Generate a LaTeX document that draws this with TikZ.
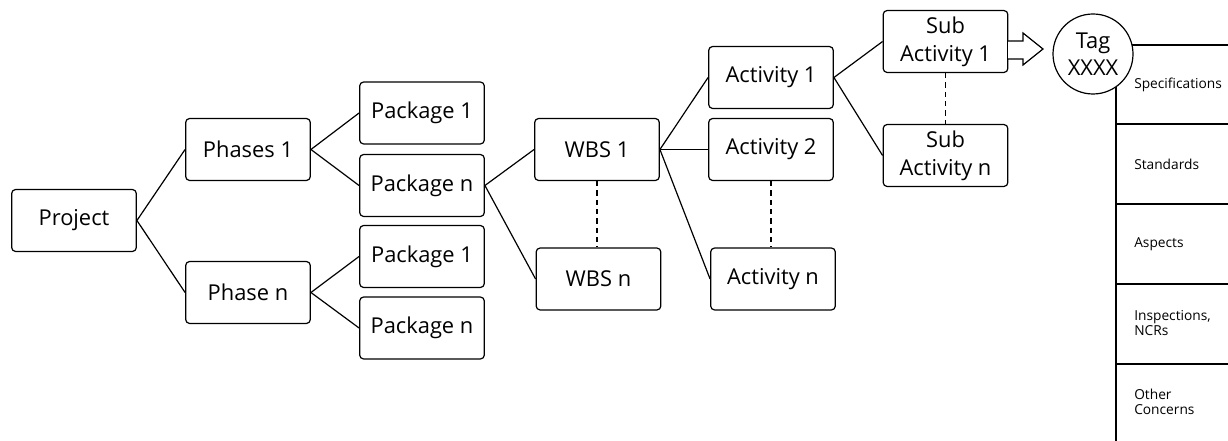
\documentclass[tikz,border=0pt]{standalone}
\usepackage{fontspec}
\setmainfont{Open Sans}
\begin{document}
\begin{tikzpicture}[x=0.75pt,y=-0.75pt,
  box/.style={draw, line width=0.9pt, rounded corners=3pt, minimum width=93.5pt, minimum height=46.5pt, inner sep=0pt, align=center, font=\fontsize{16.4}{21}\selectfont},
  link/.style={line width=0.9pt},
  dlink/.style={line width=0.9pt, dashed, dash pattern=on 4pt off 3pt},
  cell/.style={anchor=west, align=left, inner sep=0pt, font=\fontsize{10.3}{11.5}\selectfont},
  tagc/.style={draw, line width=0.9pt, circle, fill=white, minimum size=60pt, inner sep=0pt, align=center, font=\fontsize{16.4}{20}\selectfont}
]
\useasboundingbox (0,0) rectangle (1228,441);
% nodes
\node[box] (proj) at (74,220.5) {Project};
\node[box] (ph1) at (248,149.5) {Phases 1};
\node[box] (phn) at (248,292.5) {Phase n};
\node[box] (p11) at (422,113) {Package 1};
\node[box] (p1n) at (422,185.5) {Package n};
\node[box] (pn1) at (422,256.5) {Package 1};
\node[box] (pnn) at (422,328) {Package n};
\node[box] (w1) at (597,149.5) {WBS 1};
\node[box] (wn) at (598.5,279) {WBS n};
\node[box] (a1) at (771,77.5) {Activity 1};
\node[box] (a2) at (771,149.5) {Activity 2};
\node[box] (an) at (773,279) {Activity n};
\node[box] (s1) at (945.5,41.5) {Sub\\Activity 1};
\node[box] (sn) at (945.5,155.5) {Sub\\Activity n};
% connectors
\draw[link] (proj.east) -- (ph1.west);
\draw[link] (proj.east) -- (phn.west);
\draw[link] (ph1.east) -- (p11.west);
\draw[link] (ph1.east) -- (p1n.west);
\draw[link] (phn.east) -- (pn1.west);
\draw[link] (phn.east) -- (pnn.west);
\draw[link] (p1n.east) -- (w1.west);
\draw[link] (p1n.east) -- (wn.west);
\draw[link] (w1.east) -- (a1.west);
\draw[link] (w1.east) -- (a2.west);
\draw[link] (w1.east) -- (an.west);
\draw[link] (a1.east) -- (s1.west);
\draw[link] (a1.east) -- (sn.west);
\draw[dlink] (w1.south) -- (w1.south |- wn.north);
\draw[dlink] (a2.south) -- (a2.south |- an.north);
\draw[dlink] (s1.south) -- (sn.north);
% table
\coordinate (tl) at (1116,45);
\draw[link] (1228,45) -- (tl) -- (1116,441);
\foreach \yy in {124,204,284,364} \draw[link] (1116,\yy) -- (1228,\yy);
\node[cell] (c1) at (1134,84.5) {Specifications};
\node[cell] (c2) at (1134,164) {Standards};
\node[cell] (c3) at (1134,244) {Aspects};
\node[cell] (c4) at (1134,323) {Inspections,\\NCRs};
\node[cell] (c5) at (1134,402) {Other\\Concerns};
% tag circle
\node[tagc] (tag) at (1093,54) {Tag\\XXXX};
% hollow arrow
\draw[line width=0.9pt, fill=white, line join=miter] (1008,41) -- (1023,41) -- (1023,33) -- (1043,49) -- (1023,65) -- (1023,59) -- (1008,59);
\end{tikzpicture}
\end{document}
